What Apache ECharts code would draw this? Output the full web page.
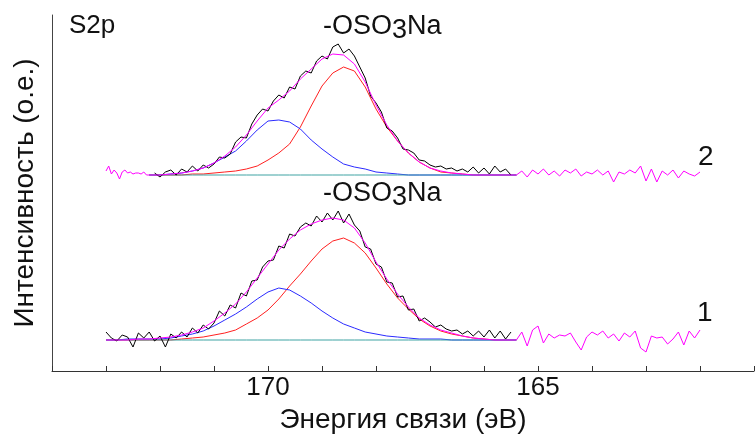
<!DOCTYPE html>
<html>
<head>
<meta charset="utf-8">
<script src="https://cdn.jsdelivr.net/npm/echarts@6/dist/echarts.min.js"></script>
<style>
  html, body { margin: 0; padding: 0; background: #fff; }
  #chart { width: 755px; height: 434px; }
</style>
</head>
<body>
<div id="chart"></div>
<script>
// энергии для сглаженных кривых (шаг 0.2 эВ)
const fitE = [173.0, 172.8, 172.6, 172.4, 172.2, 172.0, 171.8, 171.6, 171.4, 171.2,
  171.0, 170.8, 170.6, 170.4, 170.2, 170.0, 169.8, 169.6, 169.4, 169.2,
  169.0, 168.8, 168.6, 168.4, 168.2, 168.0, 167.8, 167.6, 167.4, 167.2,
  167.0, 166.8, 166.6, 166.4, 166.2, 166.0, 165.8, 165.6, 165.4];

// спектр 1 (нижний): огибающая и компоненты
const env1 = [0, 0, 0, 1, 1, 2, 3, 5, 8, 12, 19, 27, 36, 48, 62, 76, 90, 101, 110, 116,
  120, 122, 120, 112, 97, 78, 61, 46, 33, 22, 15, 10, 7, 4, 2, 1, 0, 0, 0];
const red1 = [0, 0, 0, 0, 0, 0, 0, 1, 2, 3, 5, 7, 10, 16, 22, 30, 41, 54, 66, 79,
  91, 99, 102, 97, 87, 72, 56, 42, 31, 21, 14, 9, 6, 4, 2, 1, 0, 0, 0];
const blue1 = [0, 0, 1, 1, 1, 1, 2, 4, 6, 9, 14, 20, 26, 33, 41, 48, 52, 50, 44, 37,
  29, 22, 16, 12, 8, 6, 4, 3, 2, 1, 1, 1, 0, 0, 0, 0, 0, 0, 0];

// спектр 2 (верхний)
const env2 = [null, null, null, null, 0, 0, 1, 2, 4, 7, 12, 19, 28, 40, 54, 67, 75, 84, 96, 106,
  116, 121, 120, 111, 93, 70, 50, 34, 22, 13, 7, 4, 2, 1, 0, 0, 0, 0, 0];
const red2 = [null, null, null, null, 0, 0, 0, 0, 1, 1, 2, 3, 4, 6, 9, 15, 22, 31, 48, 69,
  89, 102, 108, 104, 88, 66, 48, 34, 22, 13, 7, 3, 2, 1, 0, 0, 0, 0, 0];
const blue2 = [null, null, null, null, 0, 0, 1, 2, 4, 7, 12, 18, 24, 34, 45, 54, 55, 53, 46, 35,
  26, 18, 11, 8, 6, 3, 2, 1, 0, 0, 0, 0, 0, 0, 0, 0, 0, 0, 0];

// экспериментальные точки (шаг 0.1 эВ)
const rawE = [173.0, 172.9, 172.8, 172.7, 172.6, 172.5, 172.4, 172.3, 172.2, 172.1,
  172.0, 171.9, 171.8, 171.7, 171.6, 171.5, 171.4, 171.3, 171.2, 171.1,
  171.0, 170.9, 170.8, 170.7, 170.6, 170.5, 170.4, 170.3, 170.2, 170.1,
  170.0, 169.9, 169.8, 169.7, 169.6, 169.5, 169.4, 169.3, 169.2, 169.1,
  169.0, 168.9, 168.8, 168.7, 168.6, 168.5, 168.4, 168.3, 168.2, 168.1,
  168.0, 167.9, 167.8, 167.7, 167.6, 167.5, 167.4, 167.3, 167.2, 167.1,
  167.0, 166.9, 166.8, 166.7, 166.6, 166.5, 166.4, 166.3, 166.2, 166.1,
  166.0, 165.9, 165.8, 165.7, 165.6, 165.5];
const raw1 = [8, 2, -1, 5, 3, -7, 7, 2, 8, -1,
  4, -7, 6, 2, 8, 3, 12, 7, 15, 11,
  17, 29, 24, 35, 32, 47, 44, 59, 60, 73,
  79, 80, 94, 92, 106, 104, 113, 117, 114, 124,
  118, 127, 120, 129, 117, 126, 115, 109, 93, 91,
  76, 73, 58, 57, 43, 44, 30, 31, 19, 22,
  18, 13, 15, 11, 9, 10, 6, 9, 4, 9,
  3, 10, 2, 9, 1, 8];
const raw2 = [null, null, null, null, null, null, null, null, null, 2,
  -2, 3, 5, 0, 6, 3, 9, 4, 10, 7,
  11, 18, 17, 21, 33, 38, 37, 51, 60, 66,
  64, 74, 80, 77, 88, 86, 99, 104, 102, 114,
  119, 116, 128, 131, 122, 126, 119, 108, 97, 79,
  72, 63, 47, 44, 37, 26, 25, 22, 15, 14,
  10, 8, 9, 6, 7, 4, 6, 3, 8, 2,
  7, 1, 9, 3, 6, 0];

// хвосты спектров вне области подгонки
const tailLeftE = [173.0, 172.95, 172.9, 172.85, 172.8, 172.75, 172.7, 172.65, 172.6,
  172.55, 172.5, 172.45, 172.4, 172.35, 172.3, 172.25, 172.2];
const tailLeft2 = [4, 9, 1, 5, 2, -4, 3, 5, 2, 3, 1, 2, 2, 1, 3, 0, 0];

const tailRightE = [165.4, 165.3, 165.2, 165.1, 165.0, 164.9, 164.8, 164.7, 164.6, 164.5,
  164.4, 164.3, 164.2, 164.1, 164.0, 163.9, 163.8, 163.7, 163.6, 163.5,
  163.4, 163.3, 163.2, 163.1, 163.0, 162.9, 162.8, 162.7, 162.6, 162.5,
  162.4, 162.3, 162.2, 162.1, 162.0];
const tailRight1 = [0, 8, -6, 10, 14, -3, 6, 2, 5, 4,
  7, -2, -10, 3, 8, 5, 9, 2, 6, -1,
  7, 3, 9, -8, -12, 4, 2, 3, -4, 1,
  8, -5, 9, 2, 10];
const tailRight2 = [0, 4, -2, 5, 1, 6, 0, 4, -1, 5,
  2, 6, -1, 3, 1, 5, 0, 4, -7, 3,
  1, 5, 2, 9, -6, 6, -7, 4, 0, 5,
  -3, 4, 1, -1, 3];

// сдвиг спектров по вертикали
const offset1 = 31;
const offset2 = 196;

const font = 'Liberation Sans, Arial, sans-serif';

const pairs = (xs, ys, off) =>
  xs.map((x, i) => (ys[i] == null ? null : [x, ys[i] + off])).filter(Boolean);

const line = (data, color, z) => ({
  type: 'line',
  data,
  symbol: 'none',
  silent: true,
  animation: false,
  lineStyle: { color, width: 1 },
  z,
});

const spectrum = (env, red, blue, raw, tailL, tailR, off) => {
  const base = pairs(fitE, env.map(v => (v == null ? null : 0)), off);
  const magenta = [
    ...(tailL ? pairs(tailLeftE, tailL, off) : []),
    ...pairs(fitE, env, off),
    ...pairs(tailRightE, tailR, off),
  ];
  return [
    line(pairs(fitE, red, off), '#ff2020', 2),
    line(pairs(fitE, blue, off), '#2b2bff', 2),
    line(base, '#3fa3a3', 3),
    line(pairs(rawE, raw, off), '#000000', 4),
    line(magenta, '#ff00ff', 5),
  ];
};

const label = (text, left, top, size) => ({
  type: 'text',
  left,
  top,
  style: {
    text,
    fontSize: size,
    fill: '#111',
    fontFamily: font,
    rich: { s: { fontSize: size, fill: '#111', fontFamily: font, padding: [8, 0, 0, 0] } },
  },
});

const myChart = echarts.init(document.getElementById('chart'));

const option = {
  backgroundColor: '#ffffff',
  animation: false,
  grid: { left: 52, right: 1, top: 15, bottom: 63, containLabel: false, outerBoundsMode: 'none' },
  xAxis: {
    type: 'value',
    min: 161,
    max: 174,
    interval: 1,
    inverse: true,
    splitLine: { show: false },
    axisLine: { lineStyle: { color: '#333', width: 1 } },
    axisTick: { inside: true, length: 5, lineStyle: { color: '#333' } },
    axisLabel: {
      formatter: v => (v % 5 === 0 ? String(v) : ''),
      fontSize: 26,
      color: '#111',
      fontFamily: font,
      margin: 4,
    },
    name: 'Энергия связи (эВ)',
    nameLocation: 'middle',
    nameGap: 33,
    nameTextStyle: { fontSize: 28, color: '#111', fontFamily: font },
  },
  yAxis: {
    type: 'value',
    min: 0,
    max: 356,
    splitLine: { show: false },
    axisLine: { show: true, lineStyle: { color: '#444', width: 1 } },
    axisTick: { show: false },
    axisLabel: { show: false },
    name: 'Интенсивность (о.е.)',
    nameLocation: 'middle',
    nameGap: 13,
    nameTextStyle: { fontSize: 28, color: '#111', fontFamily: font },
  },
  graphic: [
    label('S2p', 69, 13, 26),
    label('-OSO{s|3}Na', 323, 13, 27),
    label('-OSO{s|3}Na', 323, 180, 27),
    label('2', 698, 143, 28),
    label('1', 697, 299, 28),
  ],
  series: [
    ...spectrum(env1, red1, blue1, raw1, null, tailRight1, offset1),
    ...spectrum(env2, red2, blue2, raw2, tailLeft2, tailRight2, offset2),
  ],
};

myChart.setOption(option);
</script>
</body>
</html>
